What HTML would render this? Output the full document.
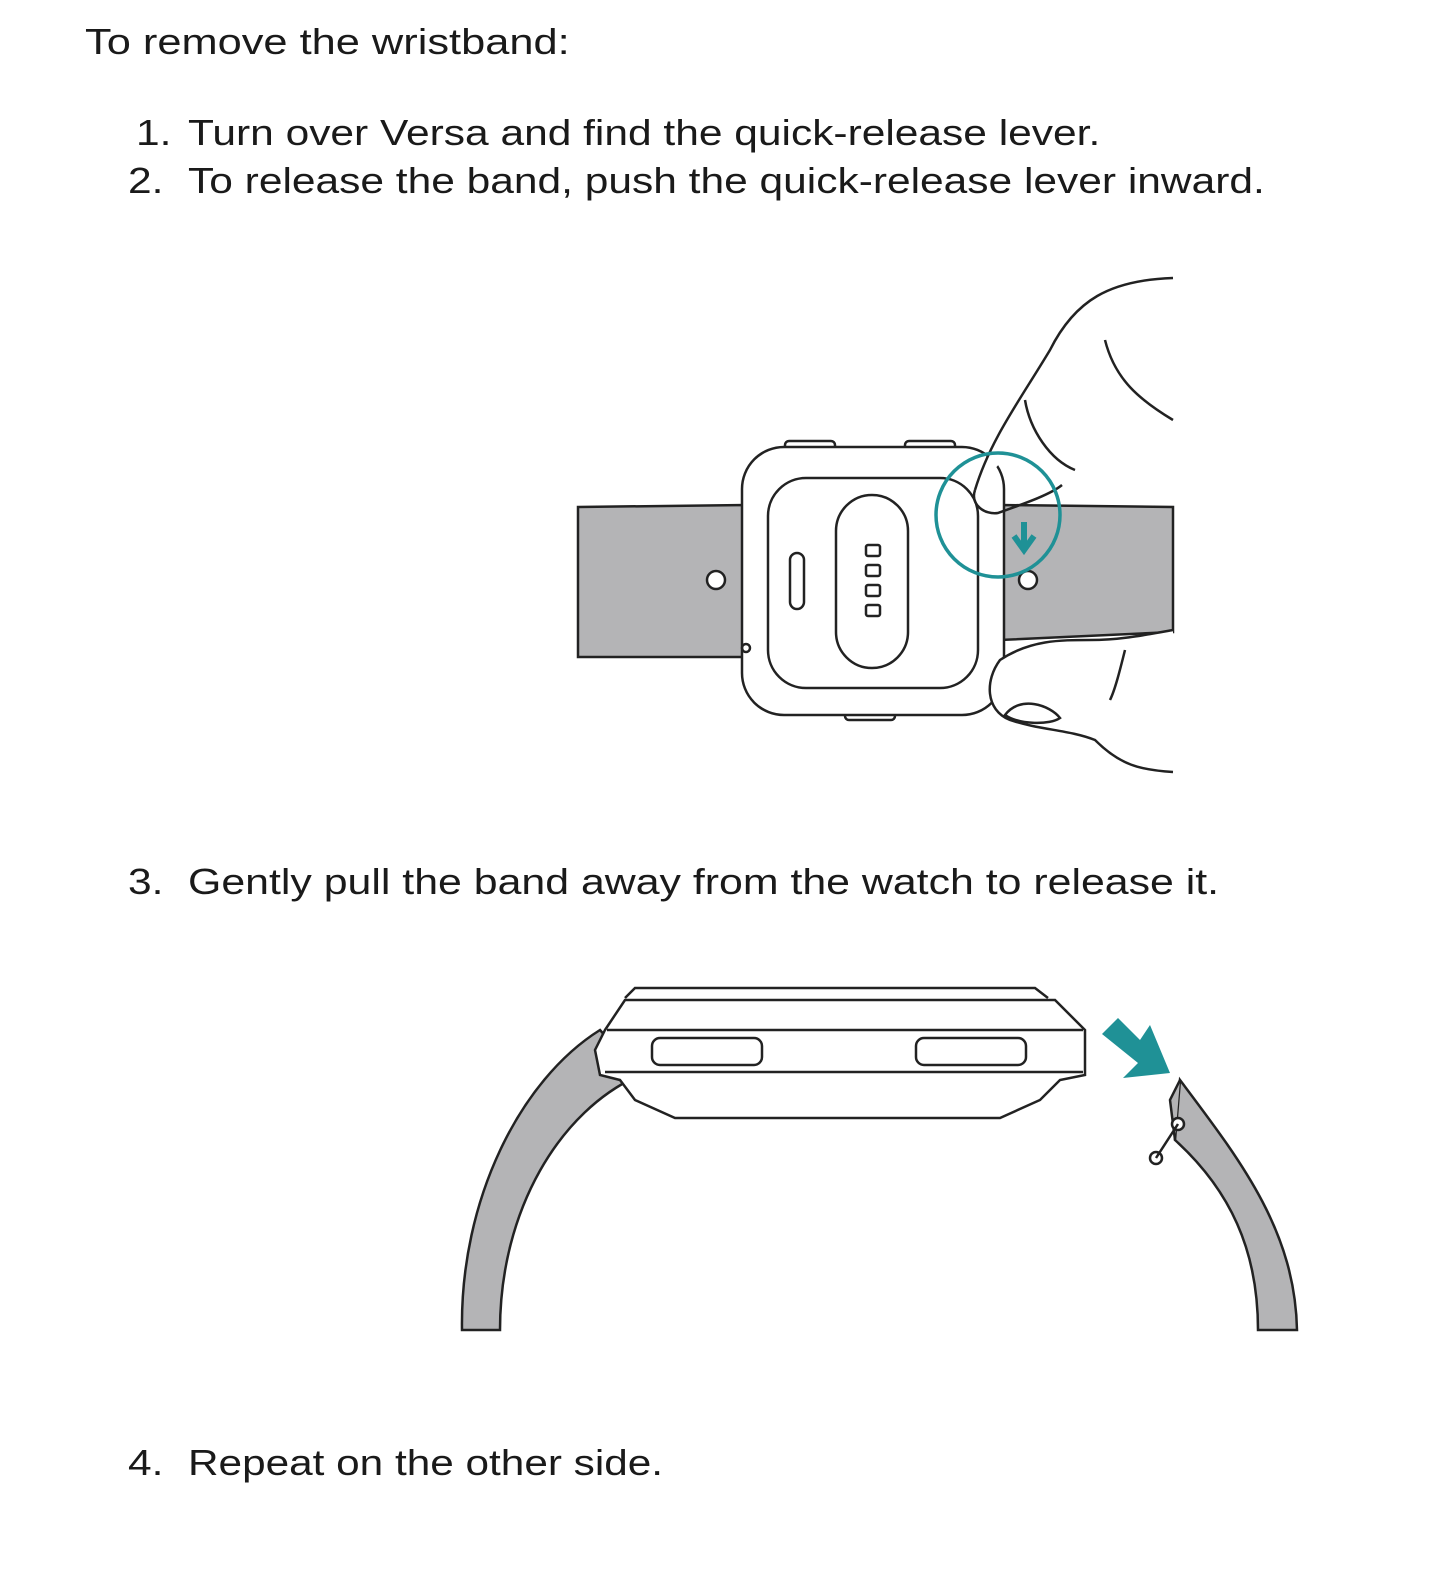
<!DOCTYPE html>
<html><head><meta charset="utf-8"><style>
body{margin:0;background:#fff;width:1445px;height:1571px;overflow:hidden;position:relative;font-family:"Liberation Sans",sans-serif;color:#1a1a1a}
.t{position:absolute;font-size:36px;white-space:nowrap;line-height:1;transform:scaleX(1.18);transform-origin:0 0}
</style></head><body>
<div class="t" style="left:85px;top:24px;transform:scaleX(1.205)">To remove the wristband:</div>
<div class="t" style="left:136px;top:115px">1.</div><div class="t" style="left:188px;top:115px">Turn over Versa and find the quick-release lever.</div>
<div class="t" style="left:128px;top:163px">2.</div><div class="t" style="left:188px;top:163px">To release the band, push the quick-release lever inward.</div>
<div class="t" style="left:128px;top:864px">3.</div><div class="t" style="left:188px;top:864px;transform:scaleX(1.19)">Gently pull the band away from the watch to release it.</div>
<div class="t" style="left:128px;top:1445px">4.</div><div class="t" style="left:188px;top:1445px;transform:scaleX(1.175)">Repeat on the other side.</div>
<svg width="1445" height="1571" style="position:absolute;left:0;top:0" fill="none" stroke="#222" stroke-width="2.5">
<path d="M578 507 L746 505 L746 657 L578 657 Z" fill="#b4b4b6"/>
<path d="M1000 505 L1173 507 L1173 632 L1000 640 Z" fill="#b4b4b6"/>
<circle cx="716" cy="580" r="9" fill="#fff"/>
<circle cx="1028" cy="580" r="9" fill="#fff"/>
<rect x="785" y="441" width="50" height="10" rx="4" fill="#fff"/>
<rect x="905" y="441" width="50" height="10" rx="4" fill="#fff"/>
<rect x="845" y="710" width="50" height="10" rx="4" fill="#fff"/>
<rect x="742" y="447" width="262" height="268" rx="42" fill="#fff"/>
<rect x="768" y="478" width="210" height="210" rx="38" fill="#fff"/>
<rect x="836" y="495" width="72" height="173" rx="36"/>
<rect x="866" y="545" width="14" height="11" rx="2"/><rect x="866" y="565" width="14" height="11" rx="2"/><rect x="866" y="585" width="14" height="11" rx="2"/><rect x="866" y="605" width="14" height="11" rx="2"/>
<rect x="790" y="553" width="14" height="56" rx="7"/>
<circle cx="746" cy="648" r="4"/>
<path d="M975 490 C 990 440 1020 400 1050 350 C 1075 300 1110 280 1173 278" fill="#fff"/>
<path d="M975 490 C 970 505 985 515 998 513 C 1020 505 1050 495 1062 485"/>
<path d="M1105 340 C 1115 380 1140 400 1173 420"/>
<path d="M1025 400 C 1030 430 1050 460 1075 470"/>
<circle cx="998" cy="515" r="62" stroke="#1f9196" stroke-width="3.5"/>
<path d="M1024 522 V545 M1014 536 L1024 550 L1034 536" stroke="#1f9196" stroke-width="6" fill="none"/>
<path d="M1173 772 C 1140 770 1120 765 1095 740 C 1070 730 1040 730 1010 720 C 985 710 985 680 1000 660 C 1030 640 1060 640 1090 640 C 1120 640 1145 635 1173 630" fill="#fff"/>
<path d="M1005 715 C 1020 695 1050 705 1060 718 C 1050 725 1020 725 1005 715Z"/>
<path d="M1125 650 C 1120 670 1115 690 1110 700"/>
<path d="M462 1330 C 460 1200 520 1080 600 1030 L 640 1075 C 560 1110 500 1210 500 1330 Z" fill="#b4b4b6"/>
<path d="M1258 1330 C 1258 1250 1230 1190 1175 1140 L 1180 1080 C 1240 1160 1295 1230 1297 1330 Z" fill="#b4b4b6"/>
<path d="M1180 1080 L1170 1100 L1175 1140" fill="#b4b4b6"/>
<circle cx="1178" cy="1124" r="6" fill="#fff"/><circle cx="1156" cy="1158" r="6" fill="#fff"/>
<path d="M1178 1124 L1156 1158"/>
<path d="M625 998 L635 988 L1035 988 L1048 998" fill="#fff"/>
<path d="M605 1030 L625 1000 L1055 1000 L1085 1030 L1085 1075 L1060 1080 L1040 1100 L1000 1118 L675 1118 L635 1100 L620 1080 L600 1075 L595 1050 Z" fill="#fff"/>
<path d="M607 1030 H1083 M605 1072 H1083"/>
<rect x="652" y="1038" width="110" height="27" rx="8" fill="#fff"/>
<rect x="916" y="1038" width="110" height="27" rx="8" fill="#fff"/>
<path d="M1102 1034 L1118 1018 L1140 1040 L1150 1025 L1170 1073 L1123 1078 L1138 1063 Z" fill="#1f9196" stroke="none"/>
</svg>
</body></html>
